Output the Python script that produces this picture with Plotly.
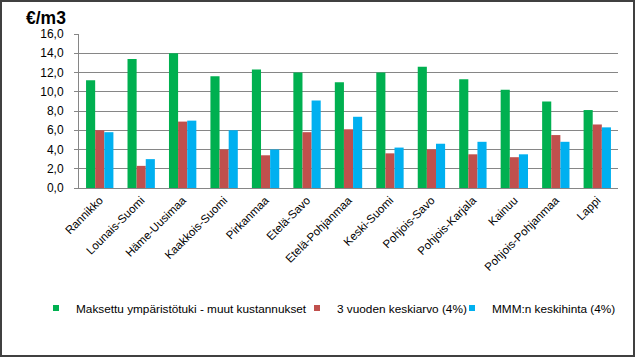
import plotly.graph_objects as go

categories = ["Rannikko", "Lounais-Suomi", "Häme-Uusimaa", "Kaakkois-Suomi", "Pirkanmaa",
              "Etelä-Savo", "Etelä-Pohjanmaa", "Keski-Suomi", "Pohjois-Savo", "Pohjois-Karjala",
              "Kainuu", "Pohjois-Pohjanmaa", "Lappi"]
maksettu = [11.2, 13.4, 14.0, 11.6, 12.3, 12.0, 11.0, 12.0, 12.6, 11.3, 10.2, 9.0, 8.1]
keskiarvo = [6.0, 2.3, 6.9, 4.0, 3.4, 5.8, 6.1, 3.6, 4.0, 3.5, 3.2, 5.5, 6.6]
keskihinta = [5.8, 3.0, 7.0, 6.0, 4.0, 9.1, 7.4, 4.2, 4.6, 4.8, 3.5, 4.8, 6.3]
series_names = ["Maksettu ympäristötuki - muut kustannukset", "3 vuoden keskiarvo (4%)",
                "MMM:n keskihinta (4%)"]
y_ticks = [0, 2, 4, 6, 8, 10, 12, 14, 16]
y_tick_labels = ["0,0", "2,0", "4,0", "6,0", "8,0", "10,0", "12,0", "14,0", "16,0"]

colors = ["#00B050", "#C0504D", "#00B0F0"]
W, H = 635, 357
L, R, T, B = 79, 17, 34, 169
pw, ph = W - L - R, H - T - B
font = "Liberation Sans, Arial, sans-serif"

def px_x(p):
    return (p - L) / pw

def px_y(p):
    return (H - B - p) / ph

fig = go.Figure()
legend_ids = ["legend", "legend2", "legend3"]
for name, vals, c, lg in zip(series_names, [maksettu, keskiarvo, keskihinta], colors, legend_ids):
    fig.add_trace(go.Bar(name=name, x=categories, y=vals, showlegend=False,
                         marker=dict(color=c, line=dict(width=0))))
    fig.add_trace(go.Scatter(name=name, x=[None], y=[None], mode="markers", legend=lg,
                             marker=dict(symbol="square", size=6, color=c), showlegend=True,
                             hoverinfo="skip"))

# legend text start pixels (matched to reference)
legend_text_x = [76, 337, 492]
lg_layout = {}
for lg, tx in zip(legend_ids, legend_text_x):
    lg_layout[lg] = dict(orientation="h", xanchor="left", yanchor="middle", y=px_y(308),
                         x=px_x(tx - 40), font=dict(size=11.8, family=font, color="#000000"),
                         itemwidth=30, bgcolor="rgba(0,0,0,0)", borderwidth=0)

fig.update_layout(
    width=W, height=H,
    margin=dict(l=L, r=R, t=T, b=B, pad=0),
    paper_bgcolor="white", plot_bgcolor="white",
    barmode="group", bargap=0.34, bargroupgap=0,
    font=dict(family=font, size=11, color="#000000"),
    showlegend=True,
    xaxis=dict(tickangle=-45, showgrid=False, showline=True, linecolor="#868686", linewidth=1,
               ticks="", tickfont=dict(size=11.5), automargin=False, fixedrange=True),
    yaxis=dict(range=[0, 16], tickvals=y_ticks, ticktext=y_tick_labels, showgrid=True,
               gridcolor="#868686", gridwidth=1, showline=True, linecolor="#868686",
               ticks="outside", ticklen=4, tickcolor="#868686", tickfont=dict(size=12),
               ticklabelstandoff=8, zeroline=False, automargin=False, fixedrange=True),
    annotations=[dict(text="<b>€/m3</b>", xref="paper", yref="paper",
                      x=px_x(24), y=px_y(18), xanchor="left", yanchor="middle",
                      showarrow=False, font=dict(size=17.5, family=font, color="#000000"))],
    shapes=[dict(type="rect", xref="paper", yref="paper",
                 x0=px_x(1), x1=px_x(W - 1), y0=px_y(H - 1), y1=px_y(1),
                 line=dict(color="#404040", width=2), fillcolor="rgba(0,0,0,0)", layer="above")],
    **lg_layout,
)
fig.write_html("out.html", config={"displayModeBar": False},
               post_script="document.body.style.margin='0';document.body.style.overflow='hidden';")
